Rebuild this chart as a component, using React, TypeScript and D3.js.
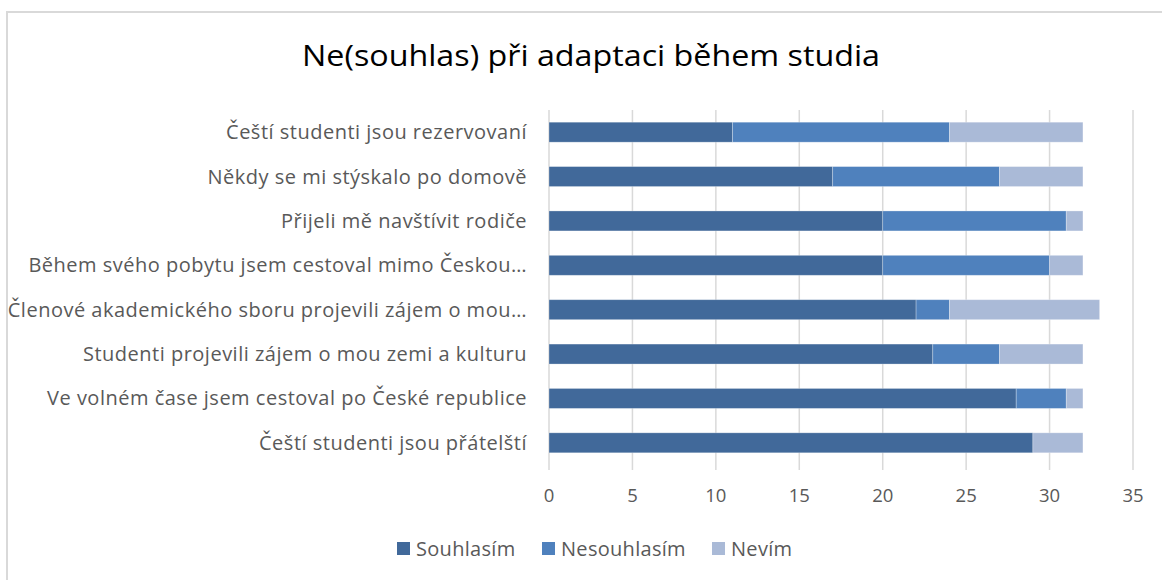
import React from "react";
import * as d3 from "d3";

const categories = [
  "Čeští studenti jsou rezervovaní",
  "Někdy se mi stýskalo po domově",
  "Přijeli mě navštívit rodiče",
  "Během svého pobytu jsem cestoval mimo Českou…",
  "Členové akademického sboru projevili zájem o mou…",
  "Studenti projevili zájem o mou zemi a kulturu",
  "Ve volném čase jsem cestoval po České republice",
  "Čeští studenti jsou přátelští",
];
const seriesNames = ["Souhlasím", "Nesouhlasím", "Nevím"];
const souhlasim = [11, 17, 20, 20, 22, 23, 28, 29];
const nesouhlasim = [13, 10, 11, 10, 2, 4, 3, 0];
const nevim = [8, 5, 1, 2, 9, 5, 1, 3];
const xTicks = [0, 5, 10, 15, 20, 25, 30, 35];
const colors = ["#41699a", "#4f81bd", "#aabad7"];
const title = "Ne(souhlas) při adaptaci během studia";

const W = 1162;
const H = 580;
const FONT = "'Open Sans', Lato, sans-serif";

export default function App() {
  const x = d3.scaleLinear().domain([0, 35]).range([549, 1133]);
  const y = d3
    .scaleBand<string>()
    .domain(categories)
    .range([110, 465])
    .paddingInner(0.55)
    .paddingOuter(0.275);

  const rows = categories.map((c, i) => ({
    cat: c,
    Souhlasím: souhlasim[i],
    Nesouhlasím: nesouhlasim[i],
    Nevím: nevim[i],
  }));
  const stacked = d3.stack<any>().keys(seriesNames)(rows);

  const legendX = [397, 542, 712];

  return (
    <svg
      width={W}
      height={H}
      style={{ position: "absolute", left: 0, top: 0, background: "#fff" }}
      fontFamily={FONT}
    >
      <rect x={7} y={12} width={W} height={H} fill="#fff" stroke="#d9d9d9" strokeWidth={2} />
      <text x={591} y={66} textAnchor="middle" fontSize={30} fill="#000" textLength={578} lengthAdjust="spacingAndGlyphs">
        {title}
      </text>
      {xTicks.map((t) => (
        <g key={t}>
          <line x1={x(t)} x2={x(t)} y1={110} y2={470} stroke="#d9d9d9" strokeWidth={1.5} />
          <text x={x(t)} y={502} textAnchor="middle" fontSize={18.5} fill="#595959">
            {t}
          </text>
        </g>
      ))}
      {stacked.map((s, si) => (
        <g key={s.key}>
          {s.map((d, i) =>
            d[1] - d[0] > 0 ? (
              <rect
                key={i}
                x={x(d[0])}
                y={y(categories[i])}
                width={x(d[1]) - x(d[0])}
                height={y.bandwidth()}
                fill={colors[si]}
                stroke="#ffffff"
                strokeOpacity={0.35}
                strokeWidth={0.8}
              />
            ) : null
          )}
        </g>
      ))}
      {categories.map((c) => (
        <text
          key={c}
          x={527}
          y={(y(c) as number) + y.bandwidth() / 2}
          dy="0.35em"
          textAnchor="end"
          fontSize={20}
          letterSpacing={0.5}
          fill="#595959"
        >
          {c}
        </text>
      ))}
      {seriesNames.map((n, i) => (
        <g key={n}>
          <rect x={legendX[i]} y={542} width={13} height={13} fill={colors[i]} />
          <text x={legendX[i] + 19} y={548.5} dy="0.35em" fontSize={20} letterSpacing={0.3} fill="#595959">
            {n}
          </text>
        </g>
      ))}
    </svg>
  );
}
